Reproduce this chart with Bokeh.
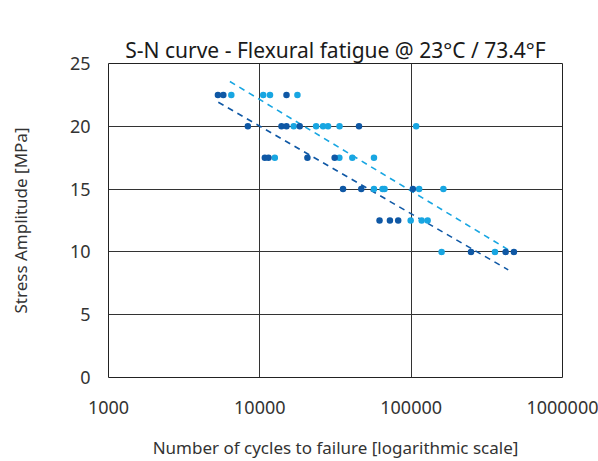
from bokeh.plotting import figure
from bokeh.models import Range1d, FixedTicker, NumeralTickFormatter, LinearAxis
from bokeh.embed import file_html
from bokeh.resources import INLINE

# Series 1 (dark blue)
dark_cycles = [5285, 5737, 15000,
               8335, 13900, 15000, 18350, 45220,
               10790, 11410, 20630, 31220,
               35460, 46810, 102600,
               61800, 72380, 82100,
               248600, 421000, 477500]
dark_stress = [22.5, 22.5, 22.5,
               20, 20, 20, 20, 20,
               17.5, 17.5, 17.5, 17.5,
               15, 15, 15,
               12.5, 12.5, 12.5,
               10, 10, 10]

# Series 2 (light blue)
light_cycles = [6480, 10530, 11670, 17720,
                16750, 23540, 26170, 28240, 33630, 107900,
                12560, 33530, 40840, 56780,
                56780, 64700, 66680, 112900, 163300,
                99240, 117300, 128500,
                158900, 357900]
light_stress = [22.5, 22.5, 22.5, 22.5,
                20, 20, 20, 20, 20, 20,
                17.5, 17.5, 17.5, 17.5,
                15, 15, 15, 15, 15,
                12.5, 12.5, 12.5,
                10, 10]

# Trend lines
dark_trend_cycles = [5318, 437900]
dark_trend_stress = [21.92, 8.57]
light_trend_cycles = [6341, 454200]
light_trend_stress = [23.57, 10.06]

x_ticks = [1000, 10000, 100000, 1000000]
y_ticks = [0, 5, 10, 15, 20, 25]

TITLE = "S-N curve - Flexural fatigue @ 23°C / 73.4°F"
DARK = "#0f58a5"
LIGHT = "#18a6e2"
FONT = "Noto Sans"
TXT = "#333333"

p = figure(width=598, height=461, x_axis_type="log",
           x_range=Range1d(1000, 1000000), y_range=Range1d(0, 25),
           output_backend="svg", toolbar_location=None,
           min_border_left=108, min_border_right=36,
           min_border_top=63, min_border_bottom=84)

# spacer between title and plot area (no ticks, so nothing is drawn)
spacer = LinearAxis(ticker=FixedTicker(ticks=[]), axis_line_color=None,
                    major_tick_line_color="white", minor_tick_line_color=None,
                    major_tick_out=31, major_tick_in=0, minor_tick_out=0)
p.add_layout(spacer, "above")

p.title.text = TITLE
p.title.align = "center"
p.title.vertical_align = "bottom"
p.title.text_font = FONT
p.title.text_font_size = "21px"
p.title.text_font_style = "normal"
p.title.text_color = "#1a1a1a"
p.title.standoff = 0

p.outline_line_color = "#222222"
p.outline_line_width = 1

p.xgrid.ticker = FixedTicker(ticks=x_ticks)
p.ygrid.ticker = FixedTicker(ticks=y_ticks)
p.below[0].ticker = FixedTicker(ticks=x_ticks)
p.yaxis.ticker = FixedTicker(ticks=y_ticks)
for g in (p.xgrid, p.ygrid):
    g.grid_line_color = "#333333"
    g.grid_line_width = 1
    g.minor_grid_line_color = None

p.below[0].formatter = NumeralTickFormatter(format="0")
for ax in (p.below[0], p.left[0]):
    ax.axis_line_color = None
    ax.major_tick_line_color = None
    ax.minor_tick_line_color = None
    ax.major_label_text_font = FONT
    ax.major_label_text_font_size = "18px"
    ax.major_label_text_color = TXT
    ax.axis_label_text_font = FONT
    ax.axis_label_text_font_size = "17px"
    ax.axis_label_text_font_style = "normal"
    ax.axis_label_text_color = TXT

p.below[0].axis_label = "Number of cycles to failure [logarithmic scale]"
p.left[0].axis_label = "Stress Amplitude [MPa]"
p.below[0].major_label_standoff = 17
p.below[0].axis_label_standoff = 19
p.left[0].major_label_standoff = 12
p.left[0].axis_label_standoff = 35

p.line(light_trend_cycles, light_trend_stress, line_color=LIGHT,
       line_width=1.6, line_dash="6 5")
p.line(dark_trend_cycles, dark_trend_stress, line_color=DARK,
       line_width=1.6, line_dash="6 5")

p.scatter(light_cycles, light_stress, size=6.5, fill_color=LIGHT, line_color=None)
p.scatter(dark_cycles, dark_stress, size=6.5, fill_color=DARK, line_color=None)

open("out.html", "w").write(file_html(p, INLINE))
